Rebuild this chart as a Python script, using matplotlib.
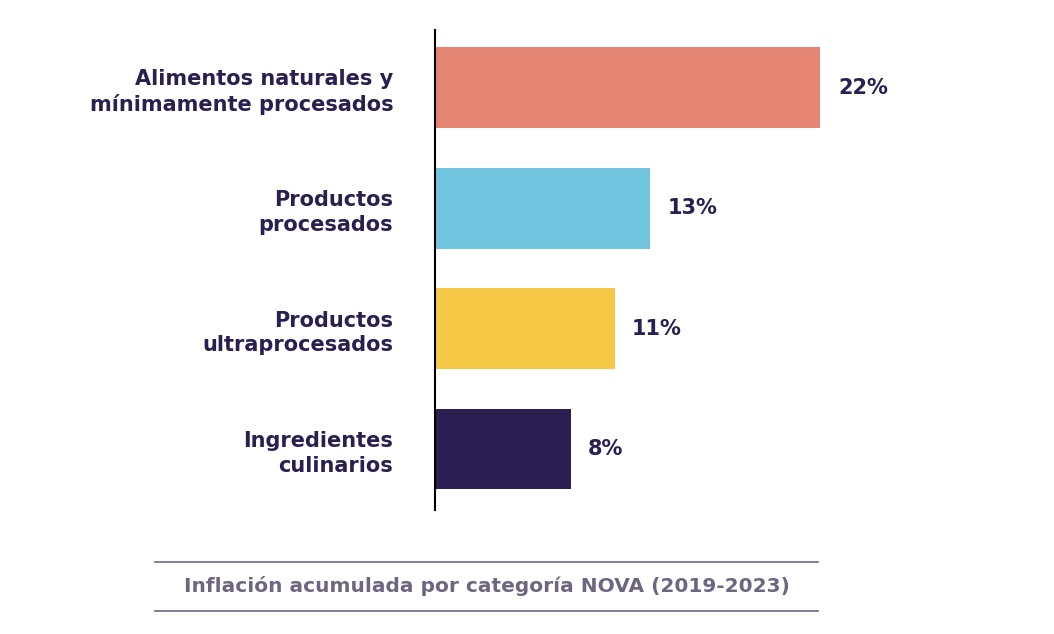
import matplotlib.pyplot as plt
from matplotlib.lines import Line2D

categories = ['Alimentos naturales y\nmínimamente procesados',
              'Productos\nprocesados',
              'Productos\nultraprocesados',
              'Ingredientes\nculinarios']
values = [21.9, 12.2, 10.2, 7.7]
value_labels = ['22%', '13%', '11%', '8%']
colors = ['#e48573', '#72c5de', '#f5c946', '#2a1f50']
footer = 'Inflación acumulada por categoría NOVA (2019-2023)'

text_color = '#2a1f50'
W, H = 1054, 634
fig = plt.figure(figsize=(W / 100, H / 100), dpi=100)
ax = fig.add_axes([435 / W, 1 - 510 / H, 616 / W, 480 / H])

ypos = list(range(len(values)))
ax.barh(ypos, values, height=0.67, color=colors)
for y, v, lab in zip(ypos, values, value_labels):
    ax.text(v + 1.0, y, lab, va='center', ha='left', fontsize=15,
            fontweight='bold', color=text_color)

ax.set_xlim(0, 35)
ax.set_ylim(3.506, -0.48)
ax.set_yticks(ypos)
ax.set_yticklabels(categories, fontsize=15, fontweight='bold',
                   color=text_color, linespacing=1.3)
ax.tick_params(axis='y', length=0, pad=30)
for lab in ax.get_yticklabels():
    lab.set_horizontalalignment('right')
ax.set_xticks([])
for s in ['top', 'right', 'bottom']:
    ax.spines[s].set_visible(False)
ax.spines['left'].set_color('black')
ax.spines['left'].set_linewidth(1.5)

# footer with rules
for yl in [562, 611]:
    fig.add_artist(Line2D([155 / W, 818 / W], [1 - yl / H, 1 - yl / H],
                          color='#6e6680', linewidth=1.2))
fig.text(487 / W, 1 - 586 / H, footer, ha='center', va='center',
         fontsize=14.5, fontweight='bold', color='#6e6680')

fig.savefig('out.png', dpi=100)
